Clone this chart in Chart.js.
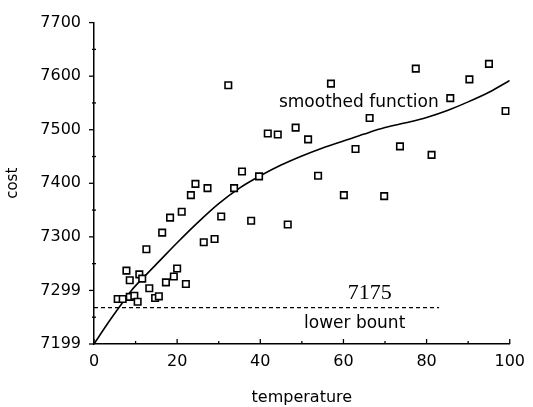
<!DOCTYPE html>
<html>
<head>
<meta charset="utf-8">
<script src="https://cdn.jsdelivr.net/npm/chart.js@4/dist/chart.umd.min.js"></script>
<style>
html,body{margin:0;padding:0;background:#fff;}
#wrap{width:533px;height:407px;position:relative;}
</style>
</head>
<body>
<div id="wrap"><canvas id="c" width="533" height="407"></canvas></div>
<script>
// ---- data ----
const obsTemp = [5.7,6.9,8.6,9.7,10.5,7.8,8.6,10.9,11.6,13.3,12.6,14.7,15.6,16.4,17.3,18.3,19.2,20.0,21.1,22.1,23.3,24.4,26.4,27.3,29.0,30.6,32.3,33.7,35.6,37.8,39.7,41.8,44.2,46.6,48.5,51.5,53.9,57.0,60.1,62.9,66.3,69.8,73.6,77.4,81.2,85.7,90.3,95.0,99.0];
const obsCost = [7184,7184,7188,7190,7179,7237,7219,7230,7222,7204,7277,7186,7189,7308,7215,7336,7226,7241,7347,7212,7378,7399,7290,7391,7296,7338,7583,7391,7422,7330,7413,7493,7491,7323,7504,7482,7414,7586,7378,7464,7522,7376,7469,7614,7453,7559,7594,7623,7535];
const smoothTemp = [0,3,6,9,12,16,20,25,30,35,40,45,50,55,60,65,70,75,80,85,90,95,100];
const smoothCost = [7100,7135,7168,7200,7225,7257,7289,7327,7362,7391,7414,7434,7451,7466,7479,7492,7504,7513,7523,7536,7552,7570,7592];
const lowerBoundTemp = [0,83];
const lowerBoundCost = [7168,7168];
const yTickValues = [7100,7200,7300,7400,7500,7600,7700];
const yTickLabels = ["7199","7299","7300","7400","7500","7600","7700"];
const xTickLabels = ["0","20","40","60","80","100"];
const notes = [
  {text:"smoothed function", x:63.7, y:7551, font:"17px 'DejaVu Sans'"},
  {text:"7175", x:66.3, y:7195, font:"22px 'Liberation Serif'"},
  {text:"lower bount", x:62.7, y:7138, font:"17px 'DejaVu Sans'"}
];

const pts = (xs, ys) => xs.map((x,i)=>({x:x, y:ys[i]}));

const bgPlugin = {
  id:'bg',
  beforeDraw(chart){
    const ctx=chart.ctx; ctx.save(); ctx.fillStyle='#fff';
    ctx.fillRect(0,0,chart.width,chart.height); ctx.restore();
  }
};
const tickPlugin = {
  id:'ticksDraw',
  afterDraw(chart){
    const ctx=chart.ctx, xs=chart.scales.x, ys=chart.scales.y;
    ctx.save(); ctx.strokeStyle='#000'; ctx.lineWidth=1.3;
    const bottom = xs.top;
    for(let v=0; v<=100; v+=10){
      const px = xs.getPixelForValue(v);
      const len = (v%20===0)?5:3;
      ctx.beginPath(); ctx.moveTo(px,bottom); ctx.lineTo(px,bottom-len); ctx.stroke();
    }
    const left = ys.right;
    for(let v=7100; v<=7700; v+=50){
      const py = ys.getPixelForValue(v);
      const major = v%100===0;
      ctx.beginPath();
      if(major){ctx.moveTo(left-5,py); ctx.lineTo(left,py);}
      else {ctx.moveTo(left-2,py); ctx.lineTo(left+2,py);}
      ctx.stroke();
    }
    // notes
    ctx.fillStyle='#000'; ctx.textAlign='center'; ctx.textBaseline='middle';
    notes.forEach(n=>{
      ctx.font=n.font;
      ctx.fillText(n.text, xs.getPixelForValue(n.x), ys.getPixelForValue(n.y));
    });
    ctx.restore();
  }
};

new Chart(document.getElementById('c'), {
  type:'scatter',
  data:{
    datasets:[
      {label:'observed', data:pts(obsTemp,obsCost), pointStyle:'rect', pointRadius:4.6,
       pointBorderWidth:1.6, pointBorderColor:'#000', pointBackgroundColor:'#fff', showLine:false},
      {label:'smoothed', data:pts(smoothTemp,smoothCost), showLine:true, pointRadius:0,
       borderColor:'#000', borderWidth:1.6, cubicInterpolationMode:'monotone', fill:false},
      {label:'lower bound', data:pts(lowerBoundTemp,lowerBoundCost), showLine:true, pointRadius:0,
       borderColor:'#000', borderWidth:1.2, borderDash:[4,3], fill:false}
    ]
  },
  options:{
    responsive:false, animation:false, devicePixelRatio:1,
    layout:{padding:{left:4, top:16, right:16, bottom:0}},
    plugins:{legend:{display:false}, tooltip:{enabled:false}},
    scales:{
      x:{
        type:'linear', min:0, max:100,
        afterFit(s){ s.height = 63; },
        grid:{display:true, drawOnChartArea:false, drawTicks:false},
        border:{display:true, color:'#000', width:1.5},
        ticks:{stepSize:20, padding:8, color:'#000', font:{family:'DejaVu Sans', size:16},
          maxRotation:0,
          callback:(v)=>{const i=xTickLabels.indexOf(String(v)); return i>=0?xTickLabels[i]:'';}},
        title:{display:true, text:'temperature', color:'#000', font:{family:'DejaVu Sans', size:16}, padding:{top:6,bottom:0}}
      },
      y:{
        type:'linear', min:7100, max:7700,
        afterFit(s){ s.width = 90; },
        grid:{display:true, drawOnChartArea:false, drawTicks:false},
        border:{display:true, color:'#000', width:1.5},
        ticks:{stepSize:100, padding:13, color:'#000', font:{family:'DejaVu Sans', size:16},
          callback:(v)=>{const i=yTickValues.indexOf(v); return i>=0?yTickLabels[i]:'';}},
        title:{display:true, text:'cost', color:'#000', font:{family:'DejaVu Sans', size:15}, padding:{top:0,bottom:0}}
      }
    }
  },
  plugins:[bgPlugin, tickPlugin]
});
</script>
</body>
</html>
